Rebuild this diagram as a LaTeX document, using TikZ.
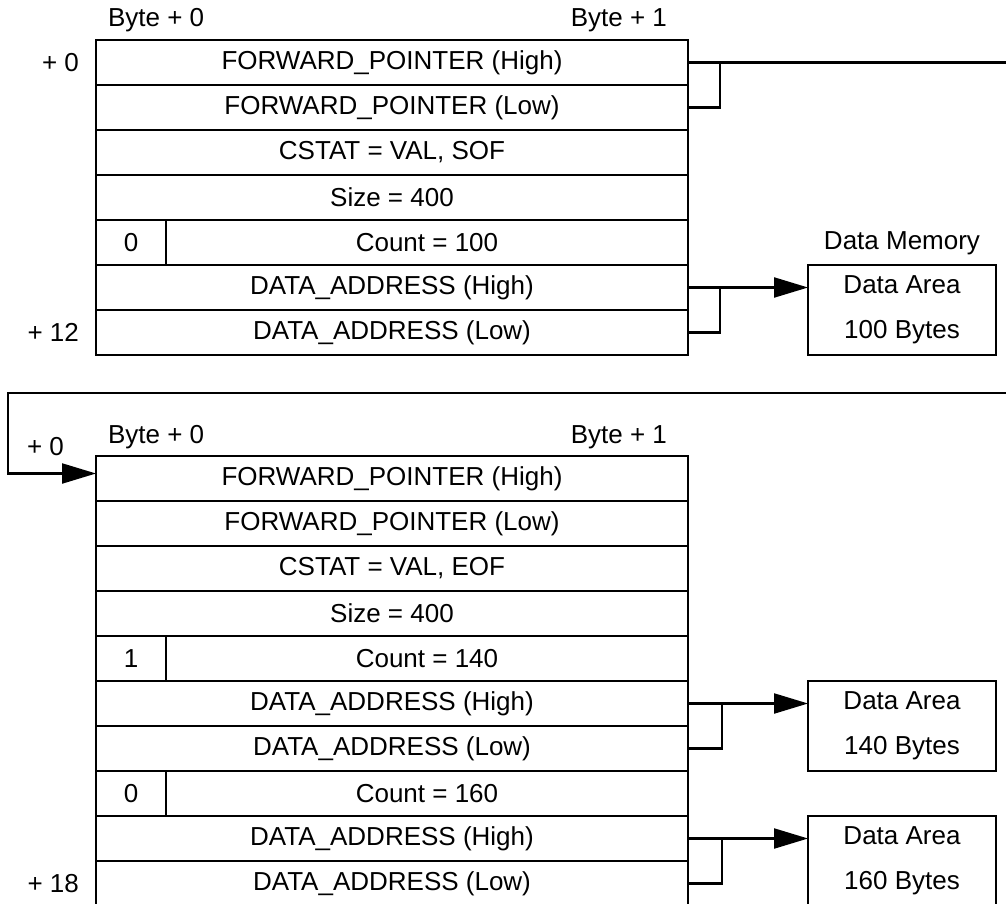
\documentclass[tikz,border=0pt]{standalone}
\usepackage{fontspec}
\setmainfont{Liberation Sans}
\usetikzlibrary{shapes,arrows.meta,positioning}

\begin{document}
\begin{tikzpicture}[x=1pt,y=-1pt,line width=2.2pt,
  font=\fontsize{26}{45}\selectfont,
  cell/.style={rectangle, draw, minimum width=592pt, minimum height=45pt, inner sep=0pt, outer sep=0pt},
  flagcell/.style={rectangle, draw, minimum width=70pt, minimum height=45pt, inner sep=0pt, outer sep=0pt},
  cntcell/.style={rectangle, draw, minimum width=522pt, minimum height=45pt, inner sep=0pt, outer sep=0pt},
  area/.style={rectangle, draw, minimum width=188pt, minimum height=90pt, align=center, inner sep=0pt, outer sep=0pt},
  lbl/.style={inner sep=0pt},
  ptr/.style={-{Triangle[length=34pt,width=20pt]}}]
\useasboundingbox (0,0) rectangle (1006,904);

% first descriptor
\node (top1) [cell] at (392,62.5) {FORWARD\_POINTER (High)};
\node (top2) [cell, below=0pt of top1] {FORWARD\_POINTER (Low)};
\node (top3) [cell, below=0pt of top2] {CSTAT = VAL, SOF};
\node (top4) [cell, below=0pt of top3] {Size = 400};
\node (top5f) [flagcell, below right=0pt and 0pt of top4.south west] {0};
\node (top5c) [cntcell, right=0pt of top5f] {Count = 100};
\node (top6) [cell, below right=0pt and 0pt of top5f.south west] {DATA\_ADDRESS (High)};
\node (top7) [cell, below=0pt of top6] {DATA\_ADDRESS (Low)};

\node (tbyte0) [lbl, anchor=base west] at ([xshift=11pt,yshift=13pt]top1.north west) {Byte + 0};
\node (tbyte1) [lbl, anchor=base east] at ([xshift=-20pt,yshift=13pt]top1.north east) {Byte + 1};
\node (toff0) [lbl, left=16pt of top1] {+ 0};
\node (toff12) [lbl, left=16pt of top7] {+ 12};

\node (dat1) [area, anchor=north west] at ([xshift=120pt]top6.north east) {Data Area\\100 Bytes};
\node (dmem) [lbl, above=9pt of dat1] {Data Memory};

% second descriptor
\node (bot1) [cell] at (392,478.5) {FORWARD\_POINTER (High)};
\node (bot2) [cell, below=0pt of bot1] {FORWARD\_POINTER (Low)};
\node (bot3) [cell, below=0pt of bot2] {CSTAT = VAL, EOF};
\node (bot4) [cell, below=0pt of bot3] {Size = 400};
\node (bot5f) [flagcell, below right=0pt and 0pt of bot4.south west] {1};
\node (bot5c) [cntcell, right=0pt of bot5f] {Count = 140};
\node (bot6) [cell, below right=0pt and 0pt of bot5f.south west] {DATA\_ADDRESS (High)};
\node (bot7) [cell, below=0pt of bot6] {DATA\_ADDRESS (Low)};
\node (bot8f) [flagcell, below right=0pt and 0pt of bot7.south west] {0};
\node (bot8c) [cntcell, right=0pt of bot8f] {Count = 160};
\node (bot9) [cell, below right=0pt and 0pt of bot8f.south west] {DATA\_ADDRESS (High)};
\node (bot10) [cell, below=0pt of bot9] {DATA\_ADDRESS (Low)};

\node (bbyte0) [lbl, anchor=base west] at ([xshift=11pt,yshift=13pt]bot1.north west) {Byte + 0};
\node (bbyte1) [lbl, anchor=base east] at ([xshift=-20pt,yshift=13pt]bot1.north east) {Byte + 1};
\node (boff0) [lbl, anchor=base east] at ([xshift=-31pt,yshift=1pt]bot1.north west) {+ 0};
\node (boff18) [lbl, left=16pt of bot10] {+ 18};

\node (dat2) [area, anchor=north west] at ([xshift=120pt]bot6.north east) {Data Area\\140 Bytes};
\node (dat3) [area, anchor=north west] at ([xshift=120pt]bot9.north east) {Data Area\\160 Bytes};

% pointers
\coordinate (fwdout) at (1010,0 |- top1.east);
\coordinate (backR) at (1010,393);
\coordinate (backL) at (8,393);
\draw (top1.east) -- (fwdout);
\draw (top2.east) -| ([xshift=32pt]top1.east);
\draw[ptr] (backR) -- (backL) |- ([yshift=5pt]bot1.west);

\draw[ptr] (top6.east) -- (top6.east -| dat1.west);
\draw (top7.east) -| ([xshift=32pt]top6.east);
\draw[ptr] (bot6.east) -- (bot6.east -| dat2.west);
\draw (bot7.east) -| ([xshift=34pt]bot6.east);
\draw[ptr] (bot9.east) -- (bot9.east -| dat3.west);
\draw (bot10.east) -| ([xshift=34pt]bot9.east);
\end{tikzpicture}
\end{document}
